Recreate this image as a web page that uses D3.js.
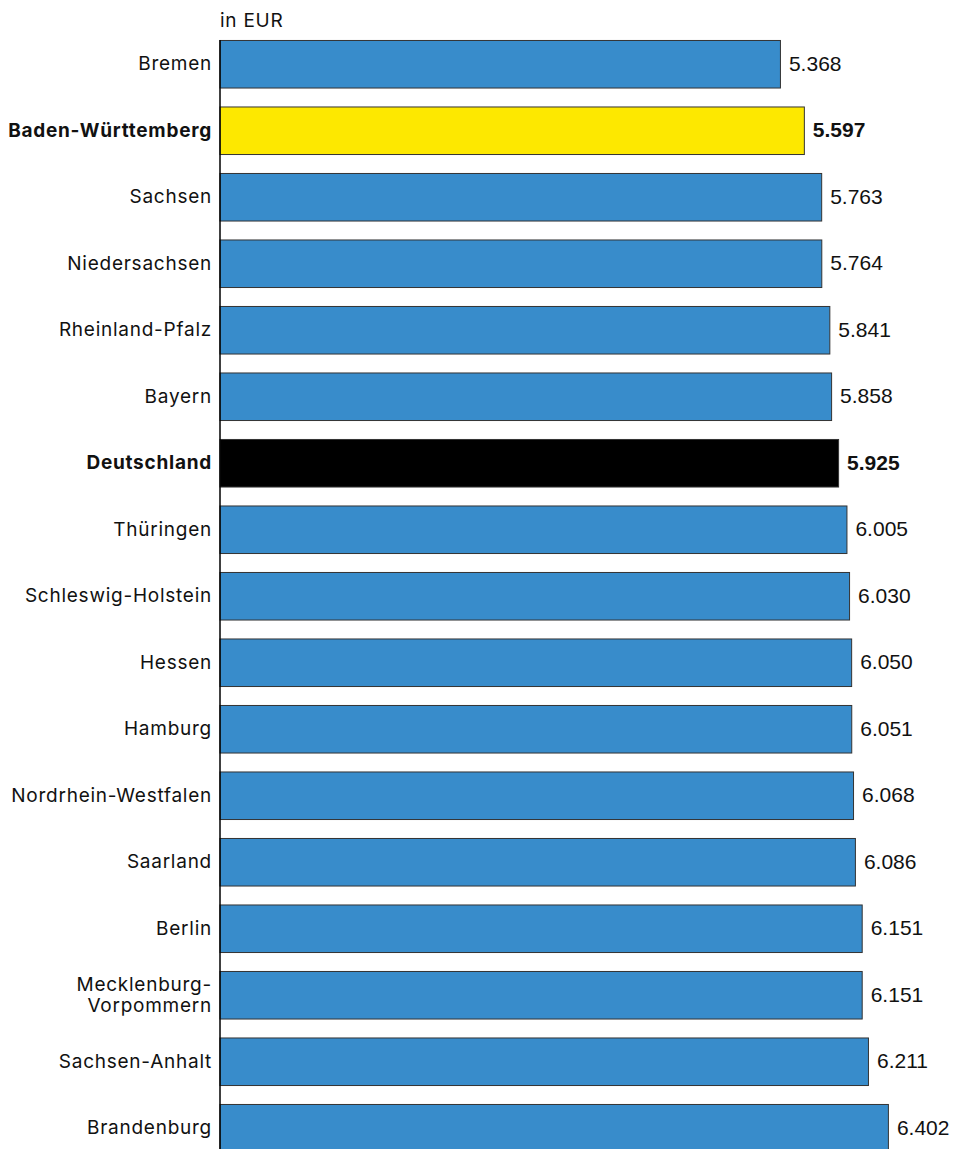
<!DOCTYPE html>
<html><head><meta charset="utf-8">
<script src="https://cdn.jsdelivr.net/npm/d3@7"></script>
<style>body{margin:0;background:#fff}svg{display:block}</style>
</head><body>
<svg id="c" width="953" height="1149"></svg>
<script>
const categories = ["Bremen","Baden-Württemberg","Sachsen","Niedersachsen","Rheinland-Pfalz","Bayern","Deutschland","Thüringen","Schleswig-Holstein","Hessen","Hamburg","Nordrhein-Westfalen","Saarland","Berlin","Mecklenburg-Vorpommern","Sachsen-Anhalt","Brandenburg"];
const labelLines = [["Bremen"],["Baden-Württemberg"],["Sachsen"],["Niedersachsen"],["Rheinland-Pfalz"],["Bayern"],["Deutschland"],["Thüringen"],["Schleswig-Holstein"],["Hessen"],["Hamburg"],["Nordrhein-Westfalen"],["Saarland"],["Berlin"],["Mecklenburg-","Vorpommern"],["Sachsen-Anhalt"],["Brandenburg"]];
const values = [5368,5597,5763,5764,5841,5858,5925,6005,6030,6050,6051,6068,6086,6151,6151,6211,6402];
const valueLabels = ["5.368","5.597","5.763","5.764","5.841","5.858","5.925","6.005","6.030","6.050","6.051","6.068","6.086","6.151","6.151","6.211","6.402"];
const highlight = {"Baden-Württemberg":"yellow","Deutschland":"black"};
const unitLabel = "in EUR";

const svg = d3.select("#c");
const x = d3.scaleLinear().domain([0, 6402]).range([220, 888.4]);
const y = d3.scaleBand().domain(categories).range([31, 31 + 66.5*17]).paddingInner(0.285).paddingOuter(0.1425);
const fill = c => highlight[c]==="yellow" ? "#fde800" : highlight[c]==="black" ? "#000" : "#388ccb";
const labelFont = "Inter, 'Noto Sans', sans-serif";

const data = categories.map((c,i)=>({c, v:values[i], lab:valueLabels[i], lines:labelLines[i]}));

svg.selectAll("rect.bar").data(data).join("rect").attr("class","bar")
  .attr("x", x(0)).attr("y", d=>y(d.c)).attr("width", d=>x(d.v)-x(0)).attr("height", y.bandwidth())
  .attr("fill", d=>fill(d.c)).attr("stroke","#333").attr("stroke-width",1);

svg.append("line").attr("x1",x(0)).attr("x2",x(0)).attr("y1",40).attr("y2",1149).attr("stroke","#000").attr("stroke-width",1.5);

const lbl = svg.selectAll("text.cat").data(data).join("text").attr("class","cat")
  .attr("x", 212).attr("text-anchor","end")
  .attr("font-family",labelFont).attr("font-size",19).attr("letter-spacing","0.75px")
  .attr("font-weight", d=>highlight[d.c]?700:400).attr("fill","#111");
lbl.each(function(d){
  const t = d3.select(this);
  const n = d.lines.length, mid = y(d.c)+y.bandwidth()/2;
  d.lines.forEach((l,k)=>{
    t.append("tspan").attr("x",212).attr("y", mid + 6 + (k-(n-1)/2)*21).text(l);
  });
});

svg.selectAll("text.val").data(data).join("text").attr("class","val")
  .attr("x", d=>x(d.v)+8.5).attr("y", d=>y(d.c)+y.bandwidth()/2+6.5)
  .attr("font-family","'Liberation Sans', Arial, sans-serif").attr("font-size",21)
  .attr("font-weight", d=>highlight[d.c]?700:400).attr("fill","#111").text(d=>d.lab);

svg.append("text").attr("x",220).attr("y",26.5).attr("font-family",labelFont).attr("font-size",19).attr("letter-spacing","0.75px").attr("fill","#111").text(unitLabel);
</script>
</body></html>
